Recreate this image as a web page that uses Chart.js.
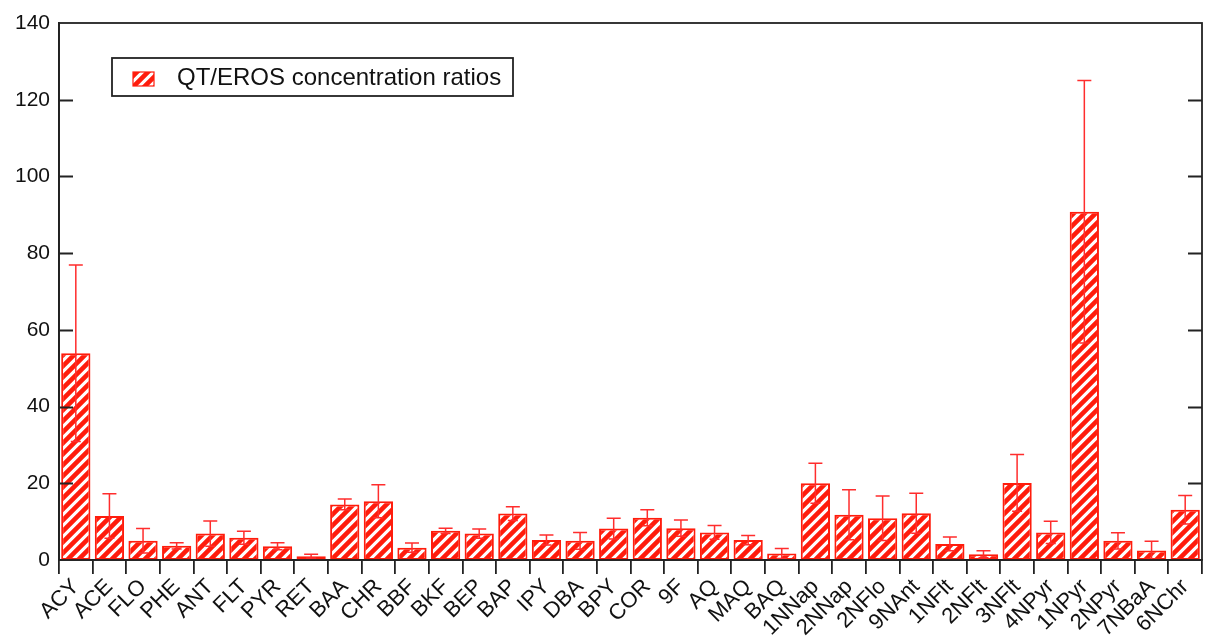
<!DOCTYPE html>
<html>
<head>
<meta charset="utf-8">
<script src="https://cdn.jsdelivr.net/npm/chart.js@4.4.1/dist/chart.umd.min.js"></script>
<style>
html,body{margin:0;padding:0;background:#fff;}
#wrap{width:1208px;height:642px;position:relative;}
</style>
</head>
<body>
<div id="wrap"><canvas id="c" width="1208" height="642"></canvas></div>
<script>
const categories = ["ACY","ACE","FLO","PHE","ANT","FLT","PYR","RET","BAA","CHR","BBF","BKF","BEP","BAP","IPY","DBA","BPY","COR","9F","AQ","MAQ","BAQ","1NNap","2NNap","2NFlo","9NAnt","1NFlt","2NFlt","3NFlt","4NPyr","1NPyr","2NPyr","7NBaA","6NChr"];
const ratios = [53.9,11.5,5.0,3.7,6.9,5.8,3.6,1.0,14.5,15.3,3.2,7.6,6.9,12.1,5.2,5.0,8.2,11.0,8.3,7.2,5.2,1.7,20.0,11.8,10.9,12.2,4.2,1.5,20.1,7.2,90.8,5.0,2.5,13.1];
const errors = [23.0,5.8,3.2,0.8,3.3,1.7,0.9,0.5,1.4,4.3,1.2,0.7,1.2,1.8,1.3,2.2,2.7,2.1,2.1,1.8,1.2,1.3,5.2,6.5,5.8,5.2,1.8,0.9,7.4,2.9,34.2,2.1,2.4,3.7];
const yTicks = [0,20,40,60,80,100,120,140];
const seriesLabel = "QT/EROS concentration ratios";

const RED = 'rgb(255,28,12)';
const FONT = "'Liberation Sans', Arial, sans-serif";

function makePattern(ctx){
  const n = 11;
  const t = document.createElement('canvas');
  t.width = n; t.height = n;
  const g = t.getContext('2d');
  g.fillStyle = '#fff'; g.fillRect(0,0,n,n);
  g.strokeStyle = RED; g.lineWidth = 4.6; g.lineCap = 'square';
  g.beginPath();
  g.moveTo(-n/2,n/2); g.lineTo(n/2,-n/2);
  g.moveTo(0,n); g.lineTo(n,0);
  g.moveTo(n/2,1.5*n); g.lineTo(1.5*n,n/2);
  g.stroke();
  return ctx.createPattern(t,'repeat');
}

const canvas = document.getElementById('c');
const ctx = canvas.getContext('2d');
const pattern = makePattern(ctx);

const errorBarPlugin = {
  id:'errbars',
  afterDatasetsDraw(chart){
    const c = chart.ctx, meta = chart.getDatasetMeta(0), y = chart.scales.y;
    c.save();
    c.strokeStyle = 'rgb(255,45,45)'; c.lineWidth = 1.5;
    meta.data.forEach((bar,i)=>{
      const x = bar.x;
      const yt = y.getPixelForValue(ratios[i]+errors[i]);
      const yb = y.getPixelForValue(Math.max(0,ratios[i]-errors[i]));
      c.beginPath();
      c.moveTo(x,yb); c.lineTo(x,yt);
      c.moveTo(x-7,yt); c.lineTo(x+7,yt);
      c.moveTo(x-5,yb); c.lineTo(x+5,yb);
      c.stroke();
    });
    c.restore();
  }
};

const framePlugin = {
  id:'frame',
  afterDraw(chart){
    const c = chart.ctx, a = chart.chartArea, y = chart.scales.y;
    c.save();
    c.strokeStyle = '#222'; c.lineWidth = 1.8;
    c.strokeRect(a.left, a.top, a.right-a.left, a.bottom-a.top);
    c.beginPath();
    yTicks.forEach(v=>{
      if(v===0||v===140) return;
      const py = Math.round(y.getPixelForValue(v))+0.5;
      c.moveTo(a.left,py); c.lineTo(a.left+14,py);
      c.moveTo(a.right-14,py); c.lineTo(a.right,py);
    });
    c.stroke();
    // legend
    const lx=112, ly=58, lw=401, lh=38;
    c.fillStyle='#fff'; c.fillRect(lx,ly,lw,lh);
    c.lineWidth=1.8; c.strokeStyle='#222'; c.strokeRect(lx,ly,lw,lh);
    c.fillStyle=pattern; c.fillRect(133,72,21,14);
    c.strokeStyle=RED; c.lineWidth=1.2; c.strokeRect(133,72,21,14);
    c.fillStyle='#111'; c.font = "24px "+FONT; c.textBaseline='middle'; c.textAlign='left';
    c.fillText(seriesLabel, 177, 78);
    c.restore();
  }
};

new Chart(ctx, {
  type:'bar',
  data:{
    labels:categories,
    datasets:[{
      label:seriesLabel,
      data:ratios,
      backgroundColor:pattern,
      borderColor:RED,
      borderWidth:2,
      borderSkipped:false,
      barPercentage:0.87,
      categoryPercentage:1.0
    }]
  },
  options:{
    responsive:false,
    animation:false,
    devicePixelRatio:1,
    layout:{padding:{top:23,right:6,left:0,bottom:0}},
    plugins:{legend:{display:false},tooltip:{enabled:false}},
    scales:{
      x:{
        offset:true,
        border:{display:true,color:'#222',width:1.8},
        grid:{display:true,offset:true,drawOnChartArea:false,drawTicks:true,tickLength:14,tickColor:'#222',lineWidth:1.8},
        ticks:{color:'#111',font:{family:FONT,size:22},maxRotation:45,minRotation:45,autoSkip:false,padding:0},
        afterFit(s){ s.height = 82; }
      },
      y:{
        min:0,max:140,
        border:{display:true,color:'#222',width:1.8},
        grid:{display:false,drawTicks:false},
        afterBuildTicks(s){ s.ticks = yTicks.map(v=>({value:v})); },
        ticks:{color:'#111',font:{family:FONT,size:21},padding:9},
        afterFit(s){ s.width = 59; }
      }
    }
  },
  plugins:[errorBarPlugin, framePlugin]
});
</script>
</body>
</html>
